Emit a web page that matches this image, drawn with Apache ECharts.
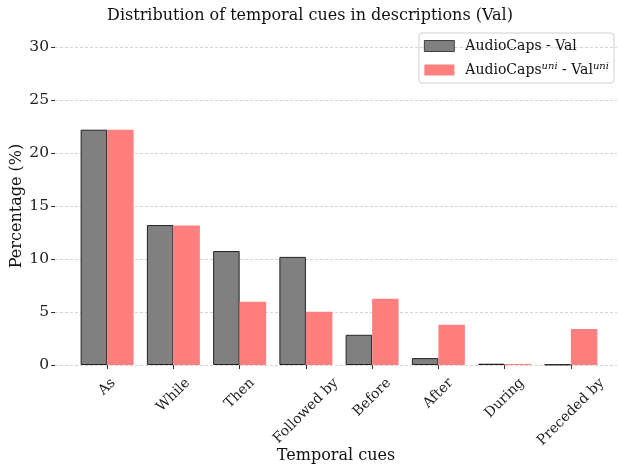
<!DOCTYPE html>
<html>
<head>
<meta charset="utf-8">
<script src="https://cdn.jsdelivr.net/npm/echarts@6/dist/echarts.min.js"></script>
<style>html,body{margin:0;padding:0;background:#fff}#c{width:620px;height:467px}</style>
</head>
<body>
<div id="c"></div>
<script>
const categories = ['As', 'While', 'Then', 'Followed by', 'Before', 'After', 'During', 'Preceded by'];
const valAudioCaps = [22.2, 13.2, 10.75, 10.2, 2.85, 0.65, 0.12, 0.05];
const valUni = [22.2, 13.15, 5.97, 5.03, 6.25, 3.8, 0.1, 3.4];
const yTicks = [0, 5, 10, 15, 20, 25, 30];

const FONT = '"DejaVu Serif", serif';
const XTICK_FS = 14;
const YTICK_FS = 15.5;

// emulate matplotlib center-anchored rotated labels
const cv = document.createElement('canvas').getContext('2d');
cv.font = XTICK_FS + 'px ' + FONT;
const rich = {};
categories.forEach((c, i) => {
  const L = cv.measureText(c).width;
  const H = 1.17 * XTICK_FS;
  const p = (L + H) / 2;
  rich['l' + i] = { padding: [p, p, 0, 0], fontFamily: FONT, fontSize: XTICK_FS, color: '#222' };
});

const chart = echarts.init(document.getElementById('c'), null, { renderer: 'canvas' });
chart.setOption({
  animation: false,
  backgroundColor: '#fff',
  title: {
    text: 'Distribution of temporal cues in descriptions (Val)',
    left: 'center', top: 3,
    textStyle: { fontFamily: FONT, fontSize: 16, fontWeight: 'normal', color: '#111' }
  },
  legend: {
    orient: 'vertical', right: 6, top: 33,
    selectedMode: false, icon: 'rect',
    itemWidth: 30, itemHeight: 11, itemGap: 8,
    itemStyle: { borderWidth: 0.8 },
    padding: [6, 5, 6, 5],
    borderColor: '#d0d0d0', borderWidth: 1, borderRadius: 3,
    textStyle: {
      fontFamily: FONT, fontSize: 14, color: '#111',
      rich: {
        sup: { fontFamily: FONT, fontSize: 10, fontStyle: 'italic', color: '#111', verticalAlign: 'top', padding: [0, 0, 8, 0] },
        n: { fontFamily: FONT, fontSize: 14, color: '#111' },
        n0: { fontFamily: FONT, fontSize: 14, color: '#111', padding: [0, 0, 0, 6] }
      }
    },
    formatter: function (name) {
      if (name === 'uni') return '{n0|AudioCaps}{sup|uni}{n| - Val}{sup|uni}';
      return '{n0|' + name + '}';
    },
    data: ['AudioCaps - Val', 'uni']
  },
  grid: [
    { left: 55, right: 3, top: 47, bottom: 102, outerBoundsMode: 'none', containLabel: false },
    { left: 74, right: 16, top: 47, bottom: 102, outerBoundsMode: 'none', containLabel: false }
  ],
  xAxis: [
    {
      gridIndex: 0, type: 'value', min: 0, max: 1,
      axisLine: { show: false }, axisTick: { show: false }, axisLabel: { show: false }, splitLine: { show: false },
      name: 'Temporal cues', nameLocation: 'middle', nameGap: 83, nameMoveOverlap: false,
      nameTextStyle: { fontFamily: FONT, fontSize: 16, color: '#111' }
    },
    {
      gridIndex: 1, type: 'category', data: categories,
      axisLine: { show: false },
      axisTick: { show: true, alignWithLabel: true, length: 4, lineStyle: { color: '#333', width: 1 } },
      axisLabel: {
        interval: 0, rotate: 45, margin: 10, align: 'center', verticalAlign: 'middle',
        fontFamily: FONT, fontSize: XTICK_FS, color: '#222',
        rich: rich,
        formatter: function (v, i) { return '{l' + i + '|' + v + '}'; }
      },
      splitLine: { show: false }
    }
  ],
  yAxis: [
    {
      gridIndex: 0, type: 'value', min: 0, max: 30, interval: 5,
      axisLine: { show: false },
      axisTick: { show: true, length: 4, lineStyle: { color: '#333', width: 1 } },
      axisLabel: { margin: 6, fontFamily: FONT, fontSize: YTICK_FS, color: '#222' },
      splitLine: { show: true, lineStyle: { color: '#c8c8c8', type: [3, 2], width: 0.8 } },
      name: 'Percentage (%)', nameLocation: 'middle', nameGap: 30, nameMoveOverlap: false,
      nameTextStyle: { fontFamily: FONT, fontSize: 16, color: '#111' }
    },
    {
      gridIndex: 1, type: 'value', min: 0, max: 30, interval: 5, show: false
    }
  ],
  series: [
    {
      name: 'AudioCaps - Val', type: 'bar', xAxisIndex: 1, yAxisIndex: 1,
      data: valAudioCaps, barGap: '0%', barCategoryGap: '20%',
      itemStyle: { color: '#808080', borderColor: '#222', borderWidth: 1 }
    },
    {
      name: 'uni', type: 'bar', xAxisIndex: 1, yAxisIndex: 1,
      data: valUni, barGap: '0%', barCategoryGap: '20%',
      itemStyle: { color: '#ff7f7f' }
    }
  ]
});
</script>
</body>
</html>
